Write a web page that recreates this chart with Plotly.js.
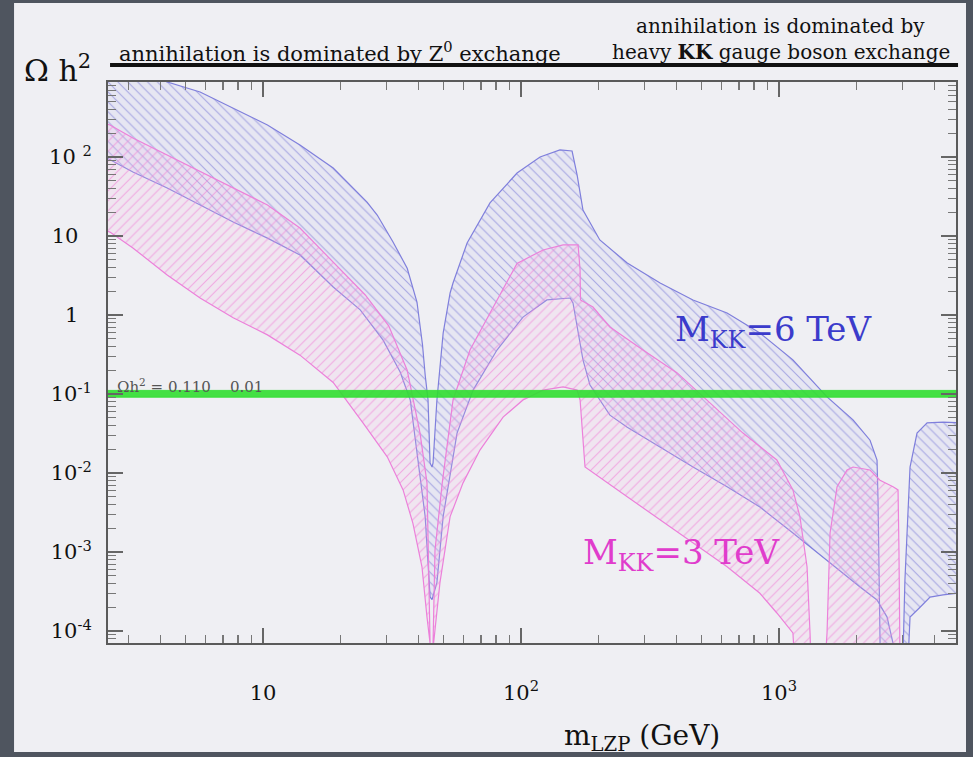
<!DOCTYPE html>
<html>
<head>
<meta charset="utf-8">
<script src="https://cdn.plot.ly/plotly-3.0.1.min.js"></script>
<style>
html,body{margin:0;padding:0;background:#4f555f;}
#chart{width:973px;height:757px;}
</style>
</head>
<body>
<div id="chart"></div>
<script>
// ---------------- data ----------------
// M_KK = 6 TeV band : main region (through the Z pole up to the KK resonance)
const b6UpX = [2.4, 4.25, 5.7, 7.66, 10.4, 13.9, 18.7, 25.3, 27.7, 31.9, 36.2, 39.5, 41.5, 42.5, 43.6, 44.4, 45.2, 45.6, 47.2, 49.9, 53.1, 54.5, 61.8, 75.8, 96.5, 118.5, 141.5, 157.7, 165, 173.8, 202, 258, 346, 464, 629, 843, 1132, 1535, 1936, 2253, 2398, 2420, 2443, 2463, 2470];
const b6UpY = [1900, 890, 665, 417, 254, 142, 72.6, 26.9, 18.4, 8.4, 3.9, 1.46, 0.42, 0.174, 0.084, 0.0134, 0.0119, 0.0134, 0.084, 0.59, 1.9, 2.54, 8.15, 26.2, 62.7, 100, 123, 119, 59, 21.3, 8.9, 4.55, 2.54, 1.55, 1.06, 0.59, 0.27, 0.092, 0.047, 0.026, 0.0146, 0.0046, 0.00065, 0.00007, 0.00004];
const b6LoX = [2.4, 3.13, 4.25, 5.7, 7.66, 10.4, 13.9, 18.7, 23.8, 29.2, 34.0, 37.2, 39.5, 42.5, 44.4, 45.2, 47.2, 49.9, 56.5, 65.2, 80.7, 101.8, 126, 155, 159, 165, 173.8, 185, 221, 258, 346, 464, 629, 843, 1132, 1535, 2061, 2398, 2623, 2767, 2780];
const b6LoY = [103, 64.6, 40.5, 24.7, 15.0, 9.4, 5.75, 2.26, 1.16, 0.48, 0.19, 0.084, 0.0195, 0.0028, 0.00027, 0.00025, 0.00041, 0.0028, 0.032, 0.112, 0.36, 0.94, 1.55, 1.64, 1.42, 0.705, 0.27, 0.13, 0.054, 0.038, 0.0213, 0.0119, 0.0067, 0.0037, 0.00174, 0.00079, 0.00036, 0.000247, 0.00015, 0.00007, 0.00004];
// M_KK = 6 TeV band : above the KK resonance
const b6rUpX = [3000, 3025, 3076, 3135, 3220, 3427, 3750, 4323, 4898, 5200];
const b6rUpY = [0.00004, 0.00005, 0.00044, 0.00174, 0.0119, 0.032, 0.043, 0.044, 0.043, 0.043];
const b6rLoX = [3162, 3220, 3306, 3521, 3850, 4323, 4898, 5200];
const b6rLoY = [0.00004, 0.00015, 0.00016, 0.0002, 0.000269, 0.000286, 0.0003, 0.0003];

// M_KK = 3 TeV band : main region
const p3UpX = [2.4, 2.55, 3.13, 4.25, 5.7, 7.66, 10.4, 13.9, 18.7, 24.9, 30.7, 36.2, 40.6, 43.2, 44.4, 45.0, 45.6, 46.4, 49.5, 54.5, 63.4, 80.7, 96.5, 121.7, 145.5, 166.4, 169.4, 170, 190, 221, 297, 403, 541, 725, 981, 1132, 1205, 1284, 1319, 1330];
const p3UpY = [270, 254, 174, 106, 64.6, 40.5, 24.7, 12.6, 4.7, 1.79, 0.73, 0.2, 0.032, 0.0075, 0.00007, 0.00004, 0.00007, 0.00106, 0.0075, 0.084, 0.36, 1.55, 4.5, 6.65, 7.7, 7.7, 3.71, 1.55, 1.26, 0.705, 0.36, 0.185, 0.077, 0.032, 0.0146, 0.0061, 0.0028, 0.00065, 0.0000944, 0.00004];
const p3LoX = [2.4, 2.55, 3.13, 4.25, 5.7, 7.66, 10.4, 13.9, 18.7, 24.4, 30.3, 34.9, 38.1, 41.3, 43.2, 44.4, 45.0, 45.6, 48.5, 53.1, 59.6, 69.3, 85.2, 101.8, 121.7, 145.5, 165, 169.4, 177, 258, 346, 464, 629, 843, 981, 1132, 1150];
const p3LoY = [12, 11.2, 7.05, 3.21, 1.64, 0.92, 0.56, 0.31, 0.14, 0.043, 0.016, 0.0061, 0.0023, 0.00065, 0.00015, 0.00007, 0.00004, 0.00007, 0.00041, 0.0028, 0.0075, 0.0195, 0.051, 0.084, 0.112, 0.123, 0.112, 0.084, 0.0119, 0.005, 0.0025, 0.0013, 0.00065, 0.0003, 0.000169, 0.0000944, 0.00004];
// M_KK = 3 TeV band : above the KK resonance
const p3rUpX = [1510, 1535, 1577, 1679, 1835, 1936, 2253, 2463, 2767, 2893, 2917, 2944];
const p3rUpY = [0.00004, 0.0000944, 0.00174, 0.0067, 0.0109, 0.0119, 0.0109, 0.0081, 0.0067, 0.0061, 0.00105, 0.00004];
const p3rLoX = [1510, 2944];
const p3rLoY = [0.00004, 0.00004];

// relic-density band as drawn (edges)
const bandLow = 0.091;
const bandHigh = 0.111;
const bandX = [2.4, 5200];

// tick labels
const yTickVals = [1e-4, 1e-3, 1e-2, 1e-1, 1, 10, 100];
const yTickText = ['10<sup>-4</sup>', '10<sup>-3</sup>', '10<sup>-2</sup>', '10<sup>-1</sup>', '1\u00a0\u00a0', '10\u00a0\u00a0', '10 <sup>2</sup>'];
const xTickVals = [10, 100, 1000];
const xTickText = ['10', '10<sup>2</sup>', '10<sup>3</sup>'];

// ---------------- build ----------------
function band(upX, upY, loX, loY, edge, shape, fg, bg) {
  return {
    type: 'scatter', mode: 'lines',
    x: upX.concat(loX.slice().reverse()),
    y: upY.concat(loY.slice().reverse()),
    fill: 'toself',
    fillcolor: bg,
    fillpattern: {shape: shape, fgcolor: fg, bgcolor: bg, size: 7, solidity: 0.16},
    line: {color: edge, width: 1.2},
    hoverinfo: 'skip', showlegend: false
  };
}
const blueEdge = '#7f7fdc', blueFg = 'rgba(125,125,215,0.6)', blueBg = 'rgba(195,195,242,0.2)';
const pinkEdge = '#ec80da', pinkFg = 'rgba(240,130,215,0.6)', pinkBg = 'rgba(247,190,232,0.2)';

const traces = [
  band(b6UpX, b6UpY, b6LoX, b6LoY, blueEdge, '\\', blueFg, blueBg),
  band(b6rUpX, b6rUpY, b6rLoX, b6rLoY, blueEdge, '\\', blueFg, blueBg),
  band(p3UpX, p3UpY, p3LoX, p3LoY, pinkEdge, '/', pinkFg, pinkBg),
  band(p3rUpX, p3rUpY, p3rLoX, p3rLoY, pinkEdge, '/', pinkFg, pinkBg),
  {
    type: 'scatter', mode: 'lines',
    x: bandX.concat(bandX.slice().reverse()),
    y: [bandLow, bandLow, bandHigh, bandHigh],
    fill: 'toself', fillcolor: 'rgba(48,222,48,0.9)',
    line: {color: 'rgba(48,222,48,0.85)', width: 1},
    hoverinfo: 'skip', showlegend: false
  }
];

const minorVals = [];
for (let e = -5; e <= 4; e++) for (let m = 2; m <= 9; m++) minorVals.push(m * Math.pow(10, e));

const serif = 'DejaVu Serif';
const layout = {
  width: 973, height: 757,
  margin: {l: 108, r: 17, t: 82, b: 114},
  paper_bgcolor: '#4f555f',
  plot_bgcolor: '#efeff3',
  showlegend: false,
  xaxis: {
    type: 'log', range: [0.399, 3.686],
    tickmode: 'array', tickvals: xTickVals, ticktext: xTickText,
    ticks: 'inside', ticklen: 15, tickwidth: 1.5, tickcolor: '#666',
    showline: true, linecolor: '#5a5a5a', linewidth: 2, mirror: 'allticks',
    showgrid: false, zeroline: false,
    tickfont: {family: serif, size: 21, color: '#111'},
    ticklabelstandoff: 30,
    minor: {tickmode: 'array', tickvals: minorVals, ticks: 'inside', ticklen: 8, tickwidth: 1.2, tickcolor: '#777', showgrid: false}
  },
  yaxis: {
    type: 'log', range: [-4.152, 2.949],
    tickmode: 'array', tickvals: yTickVals, ticktext: yTickText,
    ticks: 'inside', ticklen: 15, tickwidth: 1.5, tickcolor: '#666',
    showline: true, linecolor: '#5a5a5a', linewidth: 2, mirror: 'allticks',
    showgrid: false, zeroline: false,
    tickfont: {family: serif, size: 21, color: '#111'},
    ticklabelstandoff: 10,
    minor: {tickmode: 'array', tickvals: minorVals, ticks: 'inside', ticklen: 8, tickwidth: 1.2, tickcolor: '#777', showgrid: false}
  },
  shapes: [
    {type: 'rect', xref: 'paper', yref: 'paper', x0: -0.1108, x1: 1.0118, y0: -0.1943, y1: 1.1408,
     fillcolor: '#efeff3', line: {width: 0}, layer: 'below'},
    {type: 'line', xref: 'paper', yref: 'paper', x0: 0.0024, x1: 1.0024, y0: 1.0303, y1: 1.0303,
     line: {color: '#111', width: 4}}
  ],
  annotations: [
    {xref: 'paper', yref: 'paper', x: 0.2736, y: 1.0535, xanchor: 'center', yanchor: 'middle', showarrow: false,
     text: 'annihilation is dominated by Z<sup>0</sup> exchange', font: {family: serif, size: 21, color: '#111'}},
    {xref: 'paper', yref: 'paper', x: 0.7936, y: 1.0998, xanchor: 'center', yanchor: 'middle', showarrow: false,
     text: 'annihilation is dominated by', font: {family: serif, size: 20, color: '#111'}},
    {xref: 'paper', yref: 'paper', x: 0.7936, y: 1.0535, xanchor: 'center', yanchor: 'middle', showarrow: false,
     text: 'heavy <b>KK</b> gauge boson exchange', font: {family: serif, size: 20, color: '#111'}},
    {xref: 'paper', yref: 'paper', x: -0.059, y: 1.024, xanchor: 'center', yanchor: 'middle', showarrow: false,
     text: 'Ω h<sup>2</sup>', font: {family: serif, size: 30, color: '#111'}},
    {xref: 'paper', yref: 'paper', x: 0.63, y: -0.1676, xanchor: 'center', yanchor: 'middle', showarrow: false,
     text: 'm<sub>LZP</sub> (GeV)', font: {family: serif, size: 28, color: '#111'}},
    {xref: 'paper', yref: 'paper', x: 0.008, y: 0.437, xanchor: 'left', yanchor: 'bottom', showarrow: false,
     text: 'Ωh<sup>2</sup> = 0.110    0.01', font: {family: serif, size: 15, color: '#555'}},
    {xref: 'paper', yref: 'paper', x: 0.666, y: 0.556, xanchor: 'left', yanchor: 'middle', showarrow: false,
     text: 'M<sub>KK</sub>=6 TeV', font: {family: serif, size: 34, color: '#3b3bcb'}},
    {xref: 'paper', yref: 'paper', x: 0.558, y: 0.158, xanchor: 'left', yanchor: 'middle', showarrow: false,
     text: 'M<sub>KK</sub>=3 TeV', font: {family: serif, size: 34, color: '#e03ccc'}}
  ]
};

Plotly.newPlot('chart', traces, layout, {staticPlot: true, displayModeBar: false});
</script>
</body>
</html>
